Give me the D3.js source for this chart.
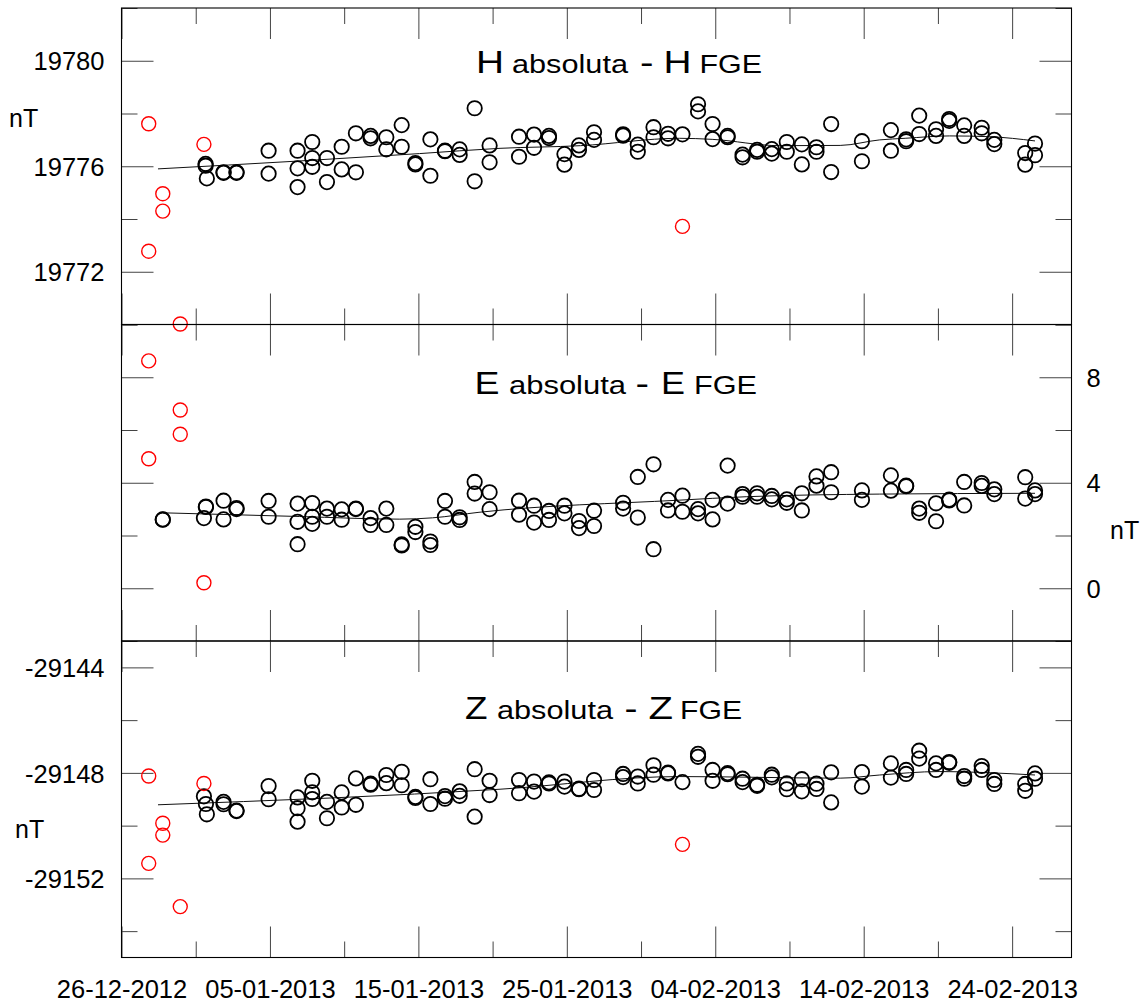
<!DOCTYPE html>
<html>
<head>
<meta charset="utf-8">
<script src="https://cdn.jsdelivr.net/npm/d3@7"></script>
<style>
  body { margin: 0; background: #fff; }
  svg text { font-family: "Liberation Sans", Arial, sans-serif; fill: #000; }
</style>
</head>
<body>
<svg id="chart" width="1145" height="1003"></svg>
<script>
// x axis: labelled dates (long ticks) and the in-between short ticks
const xDomain = ["2012-12-26", "2013-02-28"];
const xLabelDates = ["2012-12-26", "2013-01-05", "2013-01-15", "2013-01-25", "2013-02-04", "2013-02-14", "2013-02-24"];
const xMinorDates = ["2012-12-31", "2013-01-10", "2013-01-20", "2013-01-30", "2013-02-09", "2013-02-19"];

// y domains and ticks
const hDomain = [19770, 19782];
const hMajor = [19772, 19776, 19780];
const hMinor = [19770, 19774, 19778, 19782];
const eDomain = [-2, 10];
const eMajor = [0, 4, 8];
const eMinor = [-2, 2, 6, 10];
const zDomain = [-29155, -29143];
const zMajor = [-29152, -29148, -29144];
const zMinor = [-29154, -29150, -29146];

// each row: observation time, then the values measured at it (nT)
const hObs = [
  ["2012-12-31 16:00", 19776.09, 19776.02],
  ["2012-12-31 18:00", 19775.54],
  ["2013-01-01 21:00", 19775.77, 19775.75],
  ["2013-01-02 18:00", 19775.77, 19775.75],
  ["2013-01-04 21:50", 19776.59, 19775.72],
  ["2013-01-06 20:40", 19776.59, 19775.92, 19775.21],
  ["2013-01-07 20:25", 19776.92, 19776.31, 19775.98],
  ["2013-01-08 20:10", 19776.31, 19775.40],
  ["2013-01-09 20:00", 19776.74, 19775.88],
  ["2013-01-10 19:00", 19777.25, 19775.77],
  ["2013-01-11 18:45", 19777.15, 19777.06],
  ["2013-01-12 20:10", 19777.10, 19776.64],
  ["2013-01-13 21:00", 19777.56, 19776.74],
  ["2013-01-14 19:10", 19776.12, 19776.07],
  ["2013-01-15 19:25", 19777.02, 19775.64],
  ["2013-01-16 19:00", 19776.59, 19776.57],
  ["2013-01-17 18:45", 19776.64, 19776.43],
  ["2013-01-18 19:00", 19778.20, 19775.43],
  ["2013-01-19 19:10", 19776.79, 19776.15],
  ["2013-01-21 18:45", 19777.12, 19776.36],
  ["2013-01-22 19:00", 19777.20, 19776.70],
  ["2013-01-23 19:10", 19777.15, 19777.07],
  ["2013-01-24 20:10", 19776.46, 19776.06],
  ["2013-01-25 19:40", 19776.79, 19776.62],
  ["2013-01-26 20:00", 19777.29, 19777.00],
  ["2013-01-28 19:00", 19777.21, 19777.16],
  ["2013-01-29 18:45", 19776.82, 19776.55],
  ["2013-01-30 20:10", 19777.48, 19777.10],
  ["2013-01-31 19:40", 19777.23, 19777.06],
  ["2013-02-01 19:00", 19777.21],
  ["2013-02-02 20:10", 19778.35, 19778.08],
  ["2013-02-03 19:40", 19777.60, 19777.03],
  ["2013-02-04 20:00", 19777.15, 19777.10],
  ["2013-02-05 20:10", 19776.44, 19776.34],
  ["2013-02-06 19:40", 19776.62, 19776.55],
  ["2013-02-07 19:25", 19776.65, 19776.48],
  ["2013-02-08 19:40", 19776.92, 19776.55],
  ["2013-02-09 20:00", 19776.83, 19776.07],
  ["2013-02-10 19:40", 19776.72, 19776.55],
  ["2013-02-11 19:25", 19777.60, 19775.78],
  ["2013-02-13 21:10", 19776.95, 19776.19],
  ["2013-02-15 20:00", 19777.37, 19776.59],
  ["2013-02-16 20:40", 19777.02, 19776.95],
  ["2013-02-17 17:45", 19777.92, 19777.22],
  ["2013-02-18 21:00", 19777.40, 19777.15],
  ["2013-02-19 18:15", 19777.79, 19777.72],
  ["2013-02-20 18:30", 19777.55, 19777.15],
  ["2013-02-21 22:50", 19777.46, 19777.25],
  ["2013-02-22 19:10", 19777.00, 19776.84],
  ["2013-02-24 21:10", 19776.50, 19776.06],
  ["2013-02-25 13:00", 19776.86, 19776.42]
];
const hOutliers = [
  ["2012-12-27 20:00", 19777.61, 19772.78],
  ["2012-12-28 18:45", 19774.96, 19774.30],
  ["2012-12-29 23:00", 19770.02],
  ["2012-12-31 13:15", 19776.83],
  ["2013-02-01 19:00", 19773.72]
];
const hTrend = [
  ["2012-12-28 11:00", 19775.90],
  ["2013-01-07 00:00", 19776.20],
  ["2013-01-15 02:00", 19776.48],
  ["2013-01-20 12:00", 19776.68],
  ["2013-01-25 22:00", 19776.78],
  ["2013-02-01 14:00", 19777.06],
  ["2013-02-03 19:00", 19777.02],
  ["2013-02-08 08:00", 19776.78],
  ["2013-02-12 10:00", 19776.79],
  ["2013-02-15 02:00", 19777.00],
  ["2013-02-16 19:00", 19777.06],
  ["2013-02-19 19:00", 19777.15],
  ["2013-02-22 12:00", 19777.12],
  ["2013-02-25 13:00", 19776.96]
];

const eObs = [
  ["2012-12-28 18:45", 2.61, 2.60],
  ["2012-12-31 13:15", 2.66],
  ["2012-12-31 16:30", 3.10, 3.08],
  ["2013-01-01 21:00", 3.32, 2.61],
  ["2013-01-02 18:00", 3.04, 3.00],
  ["2013-01-04 21:50", 3.31, 2.71],
  ["2013-01-06 20:40", 3.21, 2.52, 1.67],
  ["2013-01-07 20:25", 3.23, 2.71, 2.44],
  ["2013-01-08 20:10", 3.02, 2.71],
  ["2013-01-09 20:00", 2.99, 2.60],
  ["2013-01-10 19:00", 3.02, 3.00],
  ["2013-01-11 18:45", 2.66, 2.40],
  ["2013-01-12 20:10", 3.02, 2.40],
  ["2013-01-13 21:00", 1.66, 1.62],
  ["2013-01-14 19:10", 2.33, 2.13],
  ["2013-01-15 19:25", 1.77, 1.64],
  ["2013-01-16 19:00", 3.31, 2.71],
  ["2013-01-17 18:45", 2.69, 2.59],
  ["2013-01-18 19:00", 4.03, 3.59],
  ["2013-01-19 19:10", 3.64, 3.00],
  ["2013-01-21 18:45", 3.32, 2.79],
  ["2013-01-22 19:00", 3.13, 2.49],
  ["2013-01-23 19:10", 2.93, 2.59],
  ["2013-01-24 20:10", 3.13, 2.84],
  ["2013-01-25 19:40", 2.55, 2.28],
  ["2013-01-26 20:00", 2.94, 2.36],
  ["2013-01-28 19:00", 3.24, 3.02],
  ["2013-01-29 18:45", 4.22, 2.68],
  ["2013-01-30 20:10", 4.70, 1.48],
  ["2013-01-31 19:40", 3.35, 2.95],
  ["2013-02-01 19:00", 3.51, 2.90],
  ["2013-02-02 20:10", 3.00, 2.84],
  ["2013-02-03 19:40", 3.35, 2.61],
  ["2013-02-04 20:00", 4.65, 3.21],
  ["2013-02-05 20:10", 3.57, 3.47],
  ["2013-02-06 19:40", 3.60, 3.47],
  ["2013-02-07 19:25", 3.50, 3.37],
  ["2013-02-08 19:40", 3.37, 3.24],
  ["2013-02-09 20:00", 3.60, 2.95],
  ["2013-02-10 19:40", 4.24, 3.89],
  ["2013-02-11 19:25", 4.40, 3.64],
  ["2013-02-13 21:10", 3.71, 3.35],
  ["2013-02-15 20:00", 4.28, 3.70],
  ["2013-02-16 20:40", 3.89, 3.87],
  ["2013-02-17 17:45", 3.02, 2.86],
  ["2013-02-18 21:00", 3.22, 2.54],
  ["2013-02-19 18:15", 3.36, 3.33],
  ["2013-02-20 18:30", 4.03, 3.14],
  ["2013-02-21 22:50", 3.99, 3.88],
  ["2013-02-22 19:10", 3.75, 3.57],
  ["2013-02-24 21:10", 4.21, 3.40],
  ["2013-02-25 13:00", 3.71, 3.57]
];
const eOutliers = [
  ["2012-12-27 20:00", 8.62, 4.91],
  ["2012-12-29 23:00", 6.76, 5.84],
  ["2012-12-31 13:15", 0.21]
];
const eTrend = [
  ["2012-12-28 19:00", 2.86],
  ["2013-01-07 00:00", 2.72],
  ["2013-01-13 18:00", 2.62],
  ["2013-01-15 23:00", 2.67],
  ["2013-01-19 02:00", 2.88],
  ["2013-02-01 14:00", 3.34],
  ["2013-02-06 02:00", 3.47],
  ["2013-02-15 02:00", 3.57],
  ["2013-02-25 13:00", 3.60]
];

const zObs = [
  ["2012-12-31 13:15", -29148.89],
  ["2012-12-31 16:30", -29149.18],
  ["2012-12-31 18:00", -29149.57],
  ["2013-01-01 21:00", -29149.10, -29149.19],
  ["2013-01-02 18:00", -29149.45, -29149.43],
  ["2013-01-04 21:50", -29148.50, -29149.00],
  ["2013-01-06 20:40", -29148.93, -29149.34, -29149.85],
  ["2013-01-07 20:25", -29148.30, -29148.74, -29148.99],
  ["2013-01-08 20:10", -29149.10, -29149.72],
  ["2013-01-09 20:00", -29148.74, -29149.31],
  ["2013-01-10 19:00", -29148.21, -29149.21],
  ["2013-01-11 18:45", -29148.41, -29148.45],
  ["2013-01-12 20:10", -29148.08, -29148.39],
  ["2013-01-13 21:00", -29147.96, -29148.47],
  ["2013-01-14 19:10", -29148.91, -29148.95],
  ["2013-01-15 19:25", -29148.24, -29149.18],
  ["2013-01-16 19:00", -29148.88, -29148.98],
  ["2013-01-17 18:45", -29148.70, -29148.87],
  ["2013-01-18 19:00", -29147.86, -29149.66],
  ["2013-01-19 19:10", -29148.30, -29148.84],
  ["2013-01-21 18:45", -29148.27, -29148.77],
  ["2013-01-22 19:00", -29148.33, -29148.71],
  ["2013-01-23 19:10", -29148.36, -29148.40],
  ["2013-01-24 20:10", -29148.33, -29148.52],
  ["2013-01-25 19:40", -29148.62, -29148.60],
  ["2013-01-26 20:00", -29148.27, -29148.65],
  ["2013-01-28 19:00", -29148.04, -29148.16],
  ["2013-01-29 18:45", -29148.14, -29148.40],
  ["2013-01-30 20:10", -29147.71, -29148.07],
  ["2013-01-31 19:40", -29147.99, -29148.02],
  ["2013-02-01 19:00", -29148.35],
  ["2013-02-02 20:10", -29147.28, -29147.39],
  ["2013-02-03 19:40", -29147.89, -29148.30],
  ["2013-02-04 20:00", -29148.01, -29148.05],
  ["2013-02-05 20:10", -29148.22, -29148.35],
  ["2013-02-06 19:40", -29148.45, -29148.49],
  ["2013-02-07 19:25", -29148.07, -29148.17],
  ["2013-02-08 19:40", -29148.40, -29148.62],
  ["2013-02-09 20:00", -29148.24, -29148.70],
  ["2013-02-10 19:40", -29148.41, -29148.61],
  ["2013-02-11 19:25", -29147.98, -29149.12],
  ["2013-02-13 21:10", -29147.97, -29148.52],
  ["2013-02-15 20:00", -29147.64, -29148.18],
  ["2013-02-16 20:40", -29147.89, -29148.04],
  ["2013-02-17 17:45", -29147.16, -29147.46],
  ["2013-02-18 21:00", -29147.64, -29147.89],
  ["2013-02-19 18:15", -29147.59, -29147.62],
  ["2013-02-20 18:30", -29148.12, -29148.22],
  ["2013-02-21 22:50", -29147.74, -29147.89],
  ["2013-02-22 19:10", -29148.27, -29148.42],
  ["2013-02-24 21:10", -29148.42, -29148.68],
  ["2013-02-25 13:00", -29148.02, -29148.22]
];
const zOutliers = [
  ["2012-12-27 20:00", -29148.12, -29151.43],
  ["2012-12-28 18:45", -29149.91, -29150.36],
  ["2012-12-29 23:00", -29153.07],
  ["2012-12-31 13:15", -29148.40],
  ["2013-02-01 19:00", -29150.71]
];
const zTrend = [
  ["2012-12-28 11:00", -29149.21],
  ["2013-01-20 12:00", -29148.62],
  ["2013-02-01 14:00", -29148.14],
  ["2013-02-12 10:00", -29148.20],
  ["2013-02-15 02:00", -29148.08],
  ["2013-02-19 02:00", -29147.95],
  ["2013-02-25 13:00", -29148.08]
];

const parseTime = d3.timeParse("%Y-%m-%d %H:%M");
const parseDay = d3.timeParse("%Y-%m-%d");
const fmtDay = d3.timeFormat("%d-%m-%Y");
const fmtVal = d => String(d);   // plain hyphen for negatives, as in the original

// flatten [time, v1, v2, ...] rows into points
const toPoints = rows => rows.flatMap(r => r.slice(1).map(v => ({t: parseTime(r[0]), v: v})));

const plotLeft = 121.5, plotRight = 1071.5, plotTop = 8, panelH = 316.5;
const fontSize = 25.5;

const svg = d3.select("#chart");

const x = d3.scaleTime()
    .domain(xDomain.map(parseDay))
    .range([plotLeft, plotRight]);

const xMajor = xLabelDates.map(parseDay);
const xMinor = xMinorDates.map(parseDay);

const panels = [
  {obs: hObs, out: hOutliers, trend: hTrend, domain: hDomain, major: hMajor, minor: hMinor,
   labels: "left", unit: {x: 9, y: 127}, letter: "H",
   title: {y: 72.7, xs: [476, 512, 640, 663.5, 699.5], lens: [28, 116, 13.5, 28, 62.5]}},
  {obs: eObs, out: eOutliers, trend: eTrend, domain: eDomain, major: eMajor, minor: eMinor,
   labels: "right", unit: {x: 1110, y: 539}, letter: "E",
   title: {y: 394, xs: [474.5, 509, 635.5, 661, 694], lens: [25, 117, 13.5, 24, 63]}},
  {obs: zObs, out: zOutliers, trend: zTrend, domain: zDomain, major: zMajor, minor: zMinor,
   labels: "left", unit: {x: 15, y: 838}, letter: "Z",
   title: {y: 718.7, xs: [465, 497, 624.5, 648.5, 680], lens: [22.5, 116, 13, 24.5, 62]}}
];

function styleAxis(g) {
  g.select(".domain").remove();
  g.selectAll(".tick line").attr("stroke", "#444").attr("stroke-width", 1);
  g.attr("font-family", null).attr("font-size", null);
  g.selectAll(".tick text").attr("font-size", fontSize + "px");
}

panels.forEach((p, i) => {
  const y0 = plotTop + i * panelH;
  const g = svg.append("g").attr("transform", `translate(0,${y0})`);

  const y = d3.scaleLinear().domain(p.domain).range([panelH, 0]);

  // x ticks on top and bottom edges, pointing inward
  g.append("g").call(d3.axisBottom(x).tickValues(xMajor).tickSize(31).tickFormat("")).call(styleAxis);
  g.append("g").call(d3.axisBottom(x).tickValues(xMinor).tickSize(16).tickFormat("")).call(styleAxis);
  g.append("g").attr("transform", `translate(0,${panelH})`)
    .call(d3.axisTop(x).tickValues(xMajor).tickSize(31).tickFormat("")).call(styleAxis);
  g.append("g").attr("transform", `translate(0,${panelH})`)
    .call(d3.axisTop(x).tickValues(xMinor).tickSize(16).tickFormat("")).call(styleAxis);

  // y ticks on both sides, labels only on one
  g.append("g").attr("transform", `translate(${plotLeft},0)`)
    .call(d3.axisLeft(y).tickValues(p.major).tickSize(-32).tickPadding(17)
      .tickFormat(p.labels === "left" ? fmtVal : "")).call(styleAxis);
  g.append("g").attr("transform", `translate(${plotLeft},0)`)
    .call(d3.axisLeft(y).tickValues(p.minor).tickSize(-16).tickFormat("")).call(styleAxis);
  g.append("g").attr("transform", `translate(${plotRight},0)`)
    .call(d3.axisRight(y).tickValues(p.major).tickSize(-32).tickPadding(15)
      .tickFormat(p.labels === "right" ? fmtVal : "")).call(styleAxis);
  g.append("g").attr("transform", `translate(${plotRight},0)`)
    .call(d3.axisRight(y).tickValues(p.minor).tickSize(-16).tickFormat("")).call(styleAxis);
  g.selectAll(".tick text").attr("dy", "0.36em");

  // frame
  g.append("rect")
    .attr("x", plotLeft).attr("y", 0)
    .attr("width", plotRight - plotLeft).attr("height", panelH)
    .attr("fill", "none").attr("stroke", "#000").attr("stroke-width", 1.1);

  // smoothed trend
  const line = d3.line()
      .x(d => x(parseTime(d[0])))
      .y(d => y(d[1]))
      .curve(d3.curveMonotoneX);
  g.append("path")
    .datum(p.trend)
    .attr("d", line)
    .attr("fill", "none")
    .attr("stroke", "#111")
    .attr("stroke-width", 1);

  g.selectAll(".obs")
    .data(toPoints(p.obs))
    .join("circle")
      .attr("class", "obs")
      .attr("cx", d => x(d.t))
      .attr("cy", d => y(d.v))
      .attr("r", 7.2)
      .attr("fill", "none")
      .attr("stroke", "#000")
      .attr("stroke-width", 1.8);

  g.selectAll(".out")
    .data(toPoints(p.out))
    .join("circle")
      .attr("class", "out")
      .attr("cx", d => x(d.t))
      .attr("cy", d => y(d.v))
      .attr("r", 7)
      .attr("fill", "none")
      .attr("stroke", "#f00")
      .attr("stroke-width", 1.4);

  // title: "X absoluta - X FGE"
  const parts = [p.letter, "absoluta", "-", p.letter, "FGE"];
  const big = [true, false, true, true, false];
  parts.forEach((txt, k) => {
    svg.append("text")
      .attr("x", p.title.xs[k])
      .attr("y", p.title.y)
      .attr("font-size", big[k] ? "32px" : "25.5px")
      .attr("textLength", p.title.lens[k])
      .attr("lengthAdjust", "spacingAndGlyphs")
      .text(txt);
  });

  // unit
  svg.append("text")
    .attr("x", p.unit.x)
    .attr("y", p.unit.y)
    .attr("font-size", "25px")
    .text("nT");
});

// date labels under the bottom panel
const plotBottom = plotTop + 3 * panelH;
svg.append("g")
  .attr("transform", `translate(0,${plotBottom})`)
  .call(d3.axisBottom(x).tickValues(xMajor).tickSize(0).tickPadding(22.5).tickFormat(fmtDay))
  .call(styleAxis);
</script>
</body>
</html>
